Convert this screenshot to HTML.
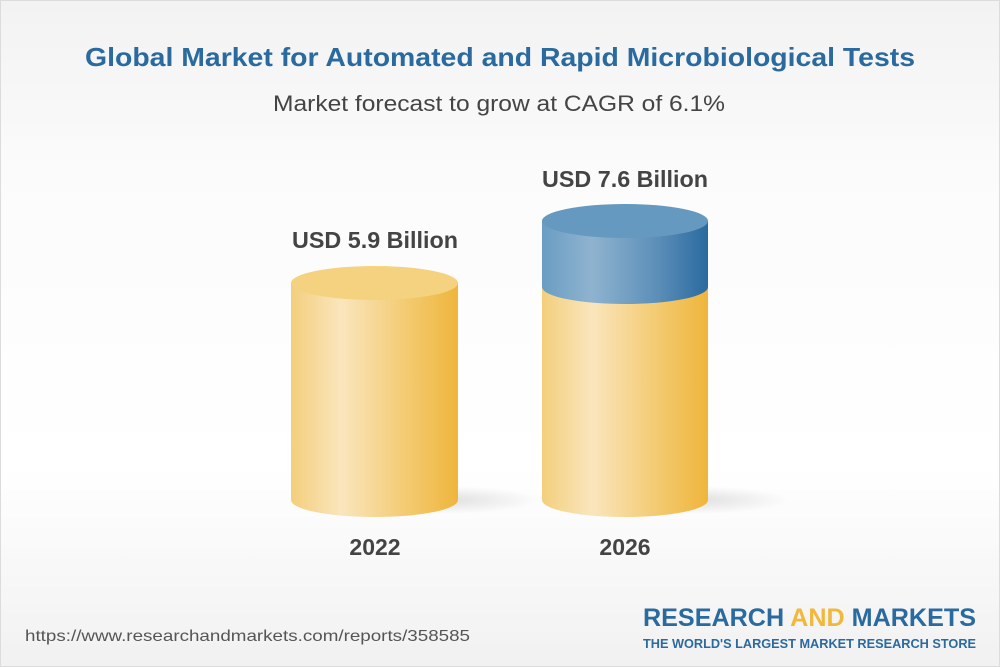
<!DOCTYPE html>
<html><head><meta charset="utf-8"><style>
html,body{margin:0;padding:0;width:1000px;height:667px;overflow:hidden}
</style></head><body>
<svg width="1000" height="667" viewBox="0 0 1000 667" xmlns="http://www.w3.org/2000/svg" font-family="Liberation Sans, Arial, sans-serif">
<defs>
<linearGradient id="bg" x1="0" y1="0" x2="0" y2="1">
<stop offset="0" stop-color="#f2f2f2"/><stop offset="0.25" stop-color="#fbfbfb"/><stop offset="0.7" stop-color="#ffffff"/><stop offset="1" stop-color="#f1f1f1"/>
</linearGradient>
<linearGradient id="yel" x1="0" y1="0" x2="1" y2="0">
<stop offset="0" stop-color="#f3cf7c"/><stop offset="0.3" stop-color="#fae5bd"/><stop offset="0.7" stop-color="#f3ca70"/><stop offset="1" stop-color="#efb53c"/>
</linearGradient>
<linearGradient id="blu" x1="0" y1="0" x2="1" y2="0">
<stop offset="0" stop-color="#6a9dc3"/><stop offset="0.3" stop-color="#8fb3cf"/><stop offset="0.7" stop-color="#5b8eb8"/><stop offset="1" stop-color="#2a6a9f"/>
</linearGradient>
<radialGradient id="sh" cx="0.5" cy="0.5" r="0.5">
<stop offset="0" stop-color="#000" stop-opacity="0.12"/><stop offset="1" stop-color="#000" stop-opacity="0"/>
</radialGradient>
</defs>
<rect width="1000" height="667" fill="url(#bg)"/>
<rect x="0.5" y="0.5" width="999" height="666" fill="none" stroke="#dcdcdc"/>
<text x="500" y="66" text-anchor="middle" font-size="26" font-weight="bold" fill="#2a6a9f" textLength="830" lengthAdjust="spacingAndGlyphs">Global Market for Automated and Rapid Microbiological Tests</text>
<text x="499" y="111" text-anchor="middle" font-size="22" fill="#444" textLength="452" lengthAdjust="spacingAndGlyphs">Market forecast to grow at CAGR of 6.1%</text>

<ellipse cx="440" cy="500" rx="100" ry="14" fill="url(#sh)"/>
<path d="M291 283 L291 500 A83.5 17 0 0 0 458 500 L458 283 Z" fill="url(#yel)"/>
<ellipse cx="374.5" cy="283" rx="83.5" ry="17" fill="#f5d27f"/>
<text x="375" y="248" text-anchor="middle" font-size="23" font-weight="bold" fill="#444" textLength="166" lengthAdjust="spacingAndGlyphs">USD 5.9 Billion</text>
<text x="375" y="555" text-anchor="middle" font-size="23" font-weight="bold" fill="#444">2022</text>

<ellipse cx="690" cy="500" rx="100" ry="14" fill="url(#sh)"/>
<path d="M542 287 L542 500 A83 17 0 0 0 708 500 L708 287 Z" fill="url(#yel)"/>
<path d="M542 221 L542 287 A83 17 0 0 0 708 287 L708 221 Z" fill="url(#blu)"/>
<ellipse cx="625" cy="221" rx="83" ry="17" fill="#6699bf"/>
<text x="625" y="187" text-anchor="middle" font-size="23" font-weight="bold" fill="#444" textLength="166" lengthAdjust="spacingAndGlyphs">USD 7.6 Billion</text>
<text x="625" y="555" text-anchor="middle" font-size="23" font-weight="bold" fill="#444">2026</text>

<text x="25" y="641" font-size="16" fill="#555" textLength="445" lengthAdjust="spacingAndGlyphs">https://www.researchandmarkets.com/reports/358585</text>
<text x="643" y="626" font-size="25" font-weight="bold" fill="#2a6a9f" textLength="333" lengthAdjust="spacingAndGlyphs">RESEARCH <tspan fill="#f1b93c">AND</tspan> MARKETS</text>
<text x="643" y="648" font-size="13" font-weight="bold" fill="#2a6a9f" textLength="333" lengthAdjust="spacingAndGlyphs">THE WORLD'S LARGEST MARKET RESEARCH STORE</text>
</svg>
</body></html>
